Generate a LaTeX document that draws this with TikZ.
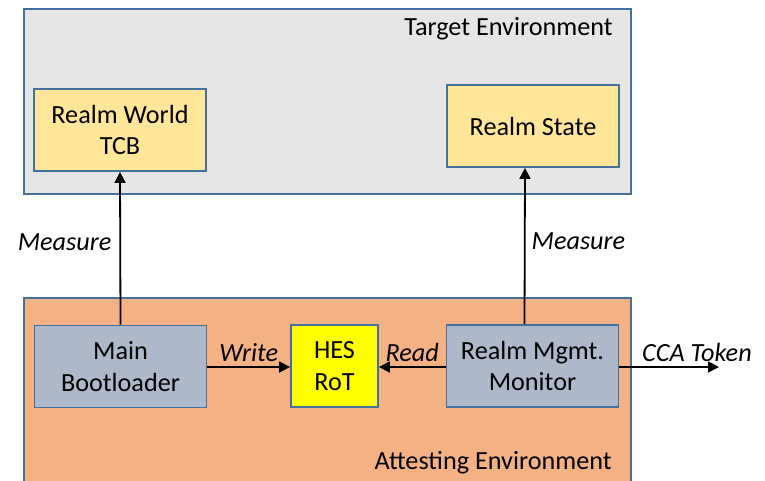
\documentclass[tikz,border=0pt]{standalone}
\usepackage{fontspec}
\setmainfont{Carlito}
\usetikzlibrary{arrows.meta}
\definecolor{rahmen}{HTML}{41719C}
\definecolor{grau}{HTML}{E6E6E6}
\definecolor{orange}{HTML}{F4B183}
\definecolor{gelb}{HTML}{FFE699}
\definecolor{blaugrau}{HTML}{ADB9CA}
\definecolor{hesgelb}{HTML}{FFFF00}
\begin{document}
\begin{tikzpicture}[x=0.5pt, y=-0.5pt,
        schrift/.style={font=\fontsize{13.1}{15.6}\selectfont},
        box/.style={schrift, draw=rahmen, line width=0.9pt, inner sep=0pt, align=center, minimum width=86pt, minimum height=41pt},
        umgebung/.style={draw=rahmen, line width=1.1pt, inner sep=0pt},
        pfeil/.style={-{Triangle[length=5.5pt, width=5.5pt]}, line width=0.9pt},
        beschriftung/.style={font=\fontsize{13.1}{15.6}\selectfont\itshape, inner sep=1pt}]
        \clip (0, 0) rectangle (765, 481);
        % Umgebungen
        \node[umgebung, fill=grau, minimum width=303.5pt, minimum height=92.5pt] (ziel) at (327.5, 101.5) {};
        \node[umgebung, fill=orange, minimum width=303.5pt, minimum height=100pt] (attest) at (327.5, 398) {};
        \node[schrift, anchor=east, inner sep=0pt] (zieltext) at (613, 29) {Target Environment};
        \node[schrift, anchor=east, inner sep=0pt] (attesttext) at (612, 463) {Attesting Environment};
        % Bausteine
        \node[box, fill=gelb] (rwtcb) at (120, 130) {Realm World\\TCB};
        \node[box, fill=gelb] (rstate) at (533, 126) {Realm State};
        \node[box, fill=blaugrau] (boot) at (120.5, 366.5) {Main\\Bootloader};
        \node[box, fill=hesgelb, minimum width=43.5pt] (hes) at (334.5, 366) {HES\\RoT};
        \node[box, fill=blaugrau] (rmm) at (532.5, 366) {Realm Mgmt.\\Monitor};
        \coordinate (token) at (719, 367);
        % Pfeile
        \draw[pfeil] (boot.north) -- (rwtcb.south)
            node[beschriftung, midway, left, xshift=-3pt, yshift=3pt] {Measure};
        \draw[pfeil] ([xshift=-4pt]rmm.north) -- ([xshift=-4pt]rstate.south)
            node[beschriftung, midway, right, xshift=2pt, yshift=2.5pt] {Measure};
        \draw[pfeil] (boot.east |- 0, 367) -- (hes.west |- 0, 367)
            node[beschriftung, midway, above, yshift=1pt] {Write};
        \draw[pfeil] (rmm.west |- 0, 367) -- (hes.east |- 0, 367)
            node[beschriftung, midway, above, yshift=1pt] {Read};
        \draw[pfeil] (rmm.east |- token) -- (token)
            node[beschriftung, pos=0.2, anchor=south west, yshift=1pt] {CCA Token};
\end{tikzpicture}
\end{document}
